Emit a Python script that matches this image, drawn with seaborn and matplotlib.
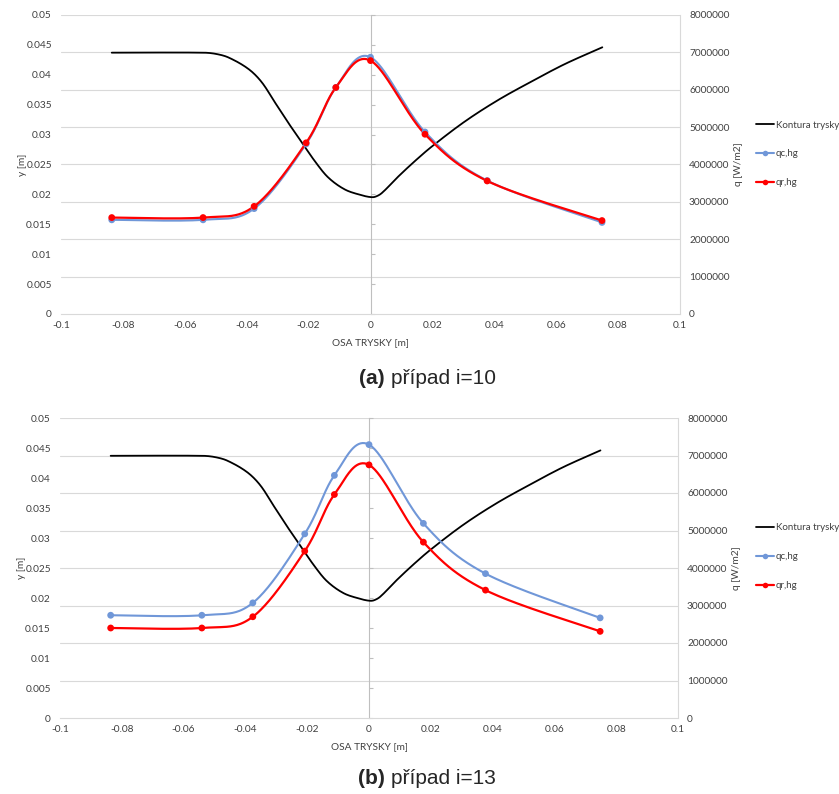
import numpy as np
import pandas as pd
import matplotlib
matplotlib.use("Agg")
import matplotlib.pyplot as plt
from matplotlib.lines import Line2D
import seaborn as sns

# ---------------- data ----------------
x_pts = [-0.0836, -0.0541, -0.0376, -0.0208, -0.0112, 0.0, 0.0176, 0.0377, 0.0748]

a_qc = [2.52e6, 2.52e6, 2.82e6, 4.55e6, 6.06e6, 6.87e6, 4.87e6, 3.57e6, 2.45e6]
a_qr = [2.58e6, 2.58e6, 2.88e6, 4.58e6, 6.06e6, 6.78e6, 4.81e6, 3.56e6, 2.50e6]

b_qc = [2.74e6, 2.74e6, 3.07e6, 4.91e6, 6.47e6, 7.29e6, 5.19e6, 3.85e6, 2.67e6]
b_qr = [2.40e6, 2.40e6, 2.70e6, 4.45e6, 5.96e6, 6.75e6, 4.69e6, 3.41e6, 2.31e6]

contour_x = [-0.0836, -0.0540, -0.0500, -0.0459, -0.0395, -0.0352, -0.0309, -0.0266,
             -0.0222, -0.0179, -0.0136, -0.0082, -0.0028, 0.0, 0.0015, 0.0036,
             0.0090, 0.0144, 0.0198, 0.0305, 0.0413, 0.0521, 0.0628, 0.0749]
contour_y = [0.0437, 0.0437, 0.0435, 0.0429, 0.0410, 0.0388, 0.0354, 0.0320,
             0.0287, 0.0255, 0.0228, 0.0208, 0.01985, 0.01955, 0.0196, 0.0202,
             0.0230, 0.0256, 0.0280, 0.0322, 0.0358, 0.0389, 0.0418, 0.0446]

x_ticks = [-0.1, -0.08, -0.06, -0.04, -0.02, 0.0, 0.02, 0.04, 0.06, 0.08, 0.1]
y_ticks = [0, 0.005, 0.01, 0.015, 0.02, 0.025, 0.03, 0.035, 0.04, 0.045, 0.05]
q_ticks = [0, 1e6, 2e6, 3e6, 4e6, 5e6, 6e6, 7e6, 8e6]

labels = ["Kontura trysky", "qc,hg", "qr,hg"]
captions = [("(a)", "případ i=10"), ("(b)", "případ i=13")]

# ---------------- style ----------------
sns.set_theme(style="white")
plt.rcParams['font.family'] = ['Lato', 'DejaVu Sans']
FS = 7.3
C_BLUE = "#7097d8"
C_RED = "#ff0000"
C_GRID = "#d9d9d9"
C_AX = "#bfbfbf"
C_TXT = "#404040"


def smooth(x, y, sx, sy, n=40, chord=False):
    """Smoothed line through the points (cubic Bezier segments)."""
    P = np.column_stack([np.asarray(x, float) / sx, np.asarray(y, float) / sy])
    E = np.vstack([P[0], P, P[-1]])
    out = []
    t = np.linspace(0, 1, n)[:, None]
    for i in range(len(P) - 1):
        p0, p1, p2, p3 = E[i], E[i + 1], E[i + 2], E[i + 3]
        if chord:
            d = np.linalg.norm(p2 - p1)
            d0 = np.linalg.norm(p1 - p0)
            d3 = np.linalg.norm(p3 - p2)
            T1 = (p2 - p0) / max(d0 + d, 1e-9)
            T2 = (p3 - p1) / max(d + d3, 1e-9)
            c1 = p1 + T1 * d / 3
            c2 = p2 - T2 * d / 3
        else:
            c1 = p1 + (p2 - p0) / 6
            c2 = p2 - (p3 - p1) / 6
        b = (1 - t) ** 3 * p1 + 3 * (1 - t) ** 2 * t * c1 + 3 * (1 - t) * t ** 2 * c2 + t ** 3 * p2
        out.append(b if i == 0 else b[1:])
    out = np.vstack(out)
    return out[:, 0] * sx, out[:, 1] * sy


fig = plt.figure(figsize=(8.39, 7.94), dpi=100)
W, H = 839, 794
panels = [
    dict(rect=(61, 15, 680, 314), qc=a_qc, qr=a_qr, cap=captions[0], cap_y=378),
    dict(rect=(60, 418, 678, 718), qc=b_qc, qr=b_qr, cap=captions[1], cap_y=778),
]

for p in panels:
    l, t, r, b = p["rect"]
    ax = fig.add_axes([l / W, 1 - b / H, (r - l) / W, (b - t) / H])
    ax2 = ax.twinx()
    ax_w, ax_h = r - l, b - t

    ax.set_xlim(-0.1, 0.1)
    ax.set_ylim(0, 0.05)
    ax2.set_ylim(0, 8e6)

    # gridlines (aligned with the secondary axis)
    for q in q_ticks[1:]:
        ax.axhline(q / 8e6 * 0.05, color=C_GRID, lw=0.8, zorder=0)

    # nozzle contour on primary axis
    cx, cy = smooth(contour_x, contour_y, 0.2 / ax_w, 0.05 / ax_h, n=20, chord=True)
    sns.lineplot(x=cx, y=cy, ax=ax, color="black", lw=1.3, sort=False, estimator=None, zorder=3)

    # heat flux curves on secondary axis
    for vals, col, lw in [(p["qc"], C_BLUE, 1.5), (p["qr"], C_RED, 1.6)]:
        sx_, sy_ = smooth(x_pts, vals, 0.2 / ax_w, 8e6 / ax_h)
        sns.lineplot(x=sx_, y=sy_, ax=ax2, color=col, lw=lw, sort=False, estimator=None)
        sns.scatterplot(x=x_pts, y=vals, ax=ax2, color=col, s=24, edgecolor="none", zorder=4)

    # ticks & labels primary
    ax.set_xticks(x_ticks)
    ax.set_xticklabels([f"{v:g}" if abs(v) > 1e-12 else "0" for v in x_ticks])
    ax.set_yticks(y_ticks)
    ax.set_yticklabels([f"{v:g}" for v in y_ticks])
    ax.tick_params(axis="both", length=0, labelsize=FS, colors=C_TXT, pad=6.5)
    ax.tick_params(axis="x", pad=5)
    ax2.set_yticks(q_ticks)
    ax2.set_yticklabels([f"{int(v)}" for v in q_ticks])
    ax2.tick_params(axis="y", length=0, labelsize=FS, colors=C_TXT, pad=6.5)

    for a in (ax, ax2):
        for s in ("top", "left"):
            a.spines[s].set_visible(False)
        a.spines["right"].set_visible(a is ax2)
        a.spines["bottom"].set_visible(a is ax)
    ax2.spines["right"].set_color(C_GRID)
    ax2.spines["right"].set_linewidth(0.8)
    ax.spines["bottom"].set_color(C_GRID)
    ax.spines["bottom"].set_linewidth(0.8)
    ax.grid(False)
    ax2.grid(False)

    # vertical value axis crossing at x = 0 with its tick marks
    sec = ax.secondary_yaxis(0.5)
    sec.set_yticks(y_ticks)
    sec.tick_params(axis="y", length=3, width=0.8, color=C_AX, labelright=False, labelleft=False)
    for s in sec.spines.values():
        s.set_color(C_AX)
        s.set_linewidth(0.8)

    ax.set_xlabel("OSA TRYSKY [m]", fontsize=FS, color=C_TXT, labelpad=6)
    ax.set_ylabel("y [m]", fontsize=FS, color=C_TXT, labelpad=-0.5)
    ax2.set_ylabel("q [W/m2]", fontsize=FS, color=C_TXT, labelpad=3)

    # legend
    handles = [
        Line2D([], [], color="black", lw=1.3),
        Line2D([], [], color=C_BLUE, lw=1.5, marker="o", markersize=4, markeredgewidth=0),
        Line2D([], [], color=C_RED, lw=1.6, marker="o", markersize=4, markeredgewidth=0),
    ]
    fig.legend(handles, labels, loc="upper left",
               bbox_to_anchor=(756 / W, 1 - (t + 105.5) / H),
               frameon=False, fontsize=FS - 0.3, handlelength=1.9, handletextpad=0.12,
               labelspacing=2.05, borderpad=0, borderaxespad=0, labelcolor=C_TXT)

    # caption
    fig.text(385 / W, 1 - p["cap_y"] / H, p["cap"][0], ha="right", va="center",
             fontsize=15, fontweight="bold", family="Liberation Sans")
    fig.text(391 / W, 1 - p["cap_y"] / H, p["cap"][1], ha="left", va="center",
             fontsize=15, family="Liberation Sans")

fig.savefig("out.png", dpi=100)
